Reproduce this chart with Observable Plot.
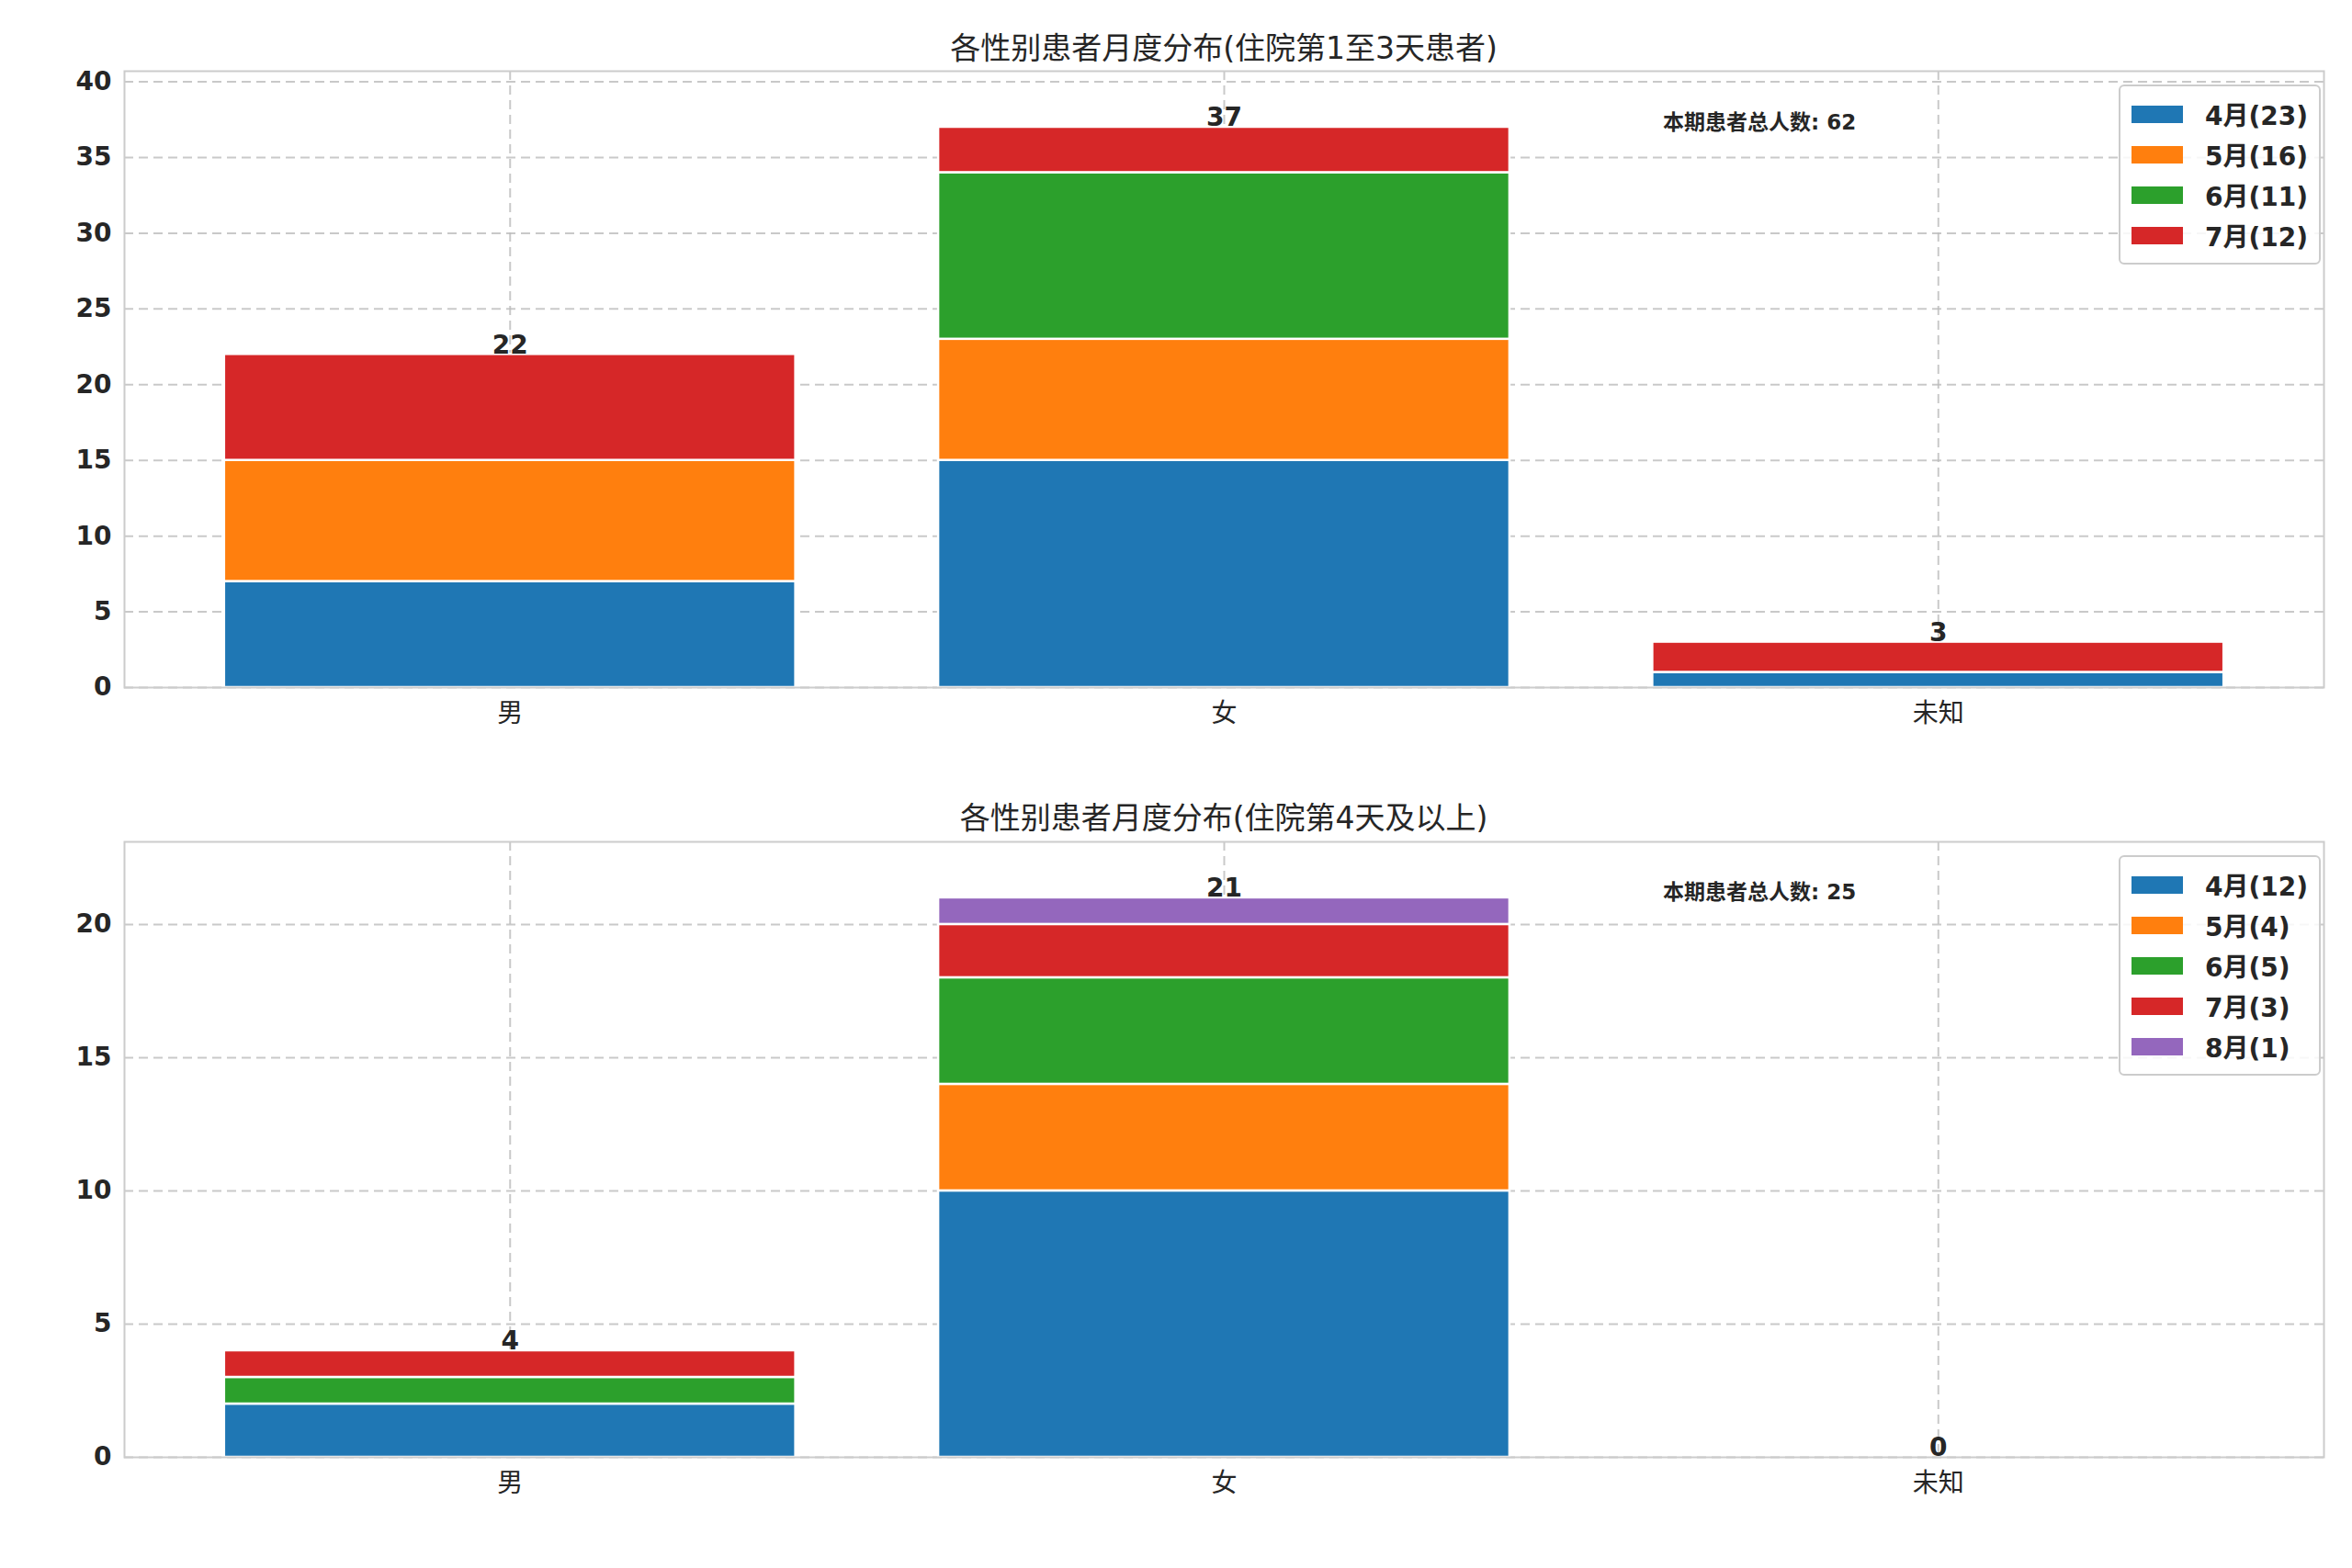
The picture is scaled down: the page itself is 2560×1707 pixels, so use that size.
<!DOCTYPE html>
<html><head><meta charset="utf-8">
<script src="https://cdn.jsdelivr.net/npm/d3@7"></script>
<script src="https://cdn.jsdelivr.net/npm/@observablehq/plot@0.6"></script>
<style>
body{margin:0;background:#fff;font-family:"DejaVu Sans","Noto Sans CJK SC",sans-serif;}
#wrap{position:relative;width:2560px;height:1707px;}
.title{position:absolute;left:135px;width:2394px;text-align:center;font-size:33px;color:#262626;}
.note{position:absolute;font-size:23px;font-weight:bold;color:#262626;}
.legend{position:absolute;right:34px;border:2px solid #ccc;border-radius:6px;background:rgba(255,255,255,0.85);padding:8px 12px;font-size:28px;font-weight:bold;color:#262626;}
.legend div{display:flex;align-items:center;height:44px;}
.legend span{display:inline-block;width:56px;height:19px;margin-right:24px;}
.svgbox{position:absolute;left:0;}
</style></head><body>
<div id="wrap"></div>
<script>
const categories = ["男", "女", "未知"];
const months1 = ["4月", "5月", "6月", "7月"];
const values1 = { "4月": [7, 15, 1], "5月": [8, 8, 0], "6月": [0, 11, 0], "7月": [7, 3, 2] };
const months2 = ["4月", "5月", "6月", "7月", "8月"];
const values2 = { "4月": [2, 10, 0], "5月": [0, 4, 0], "6月": [1, 4, 0], "7月": [1, 2, 0], "8月": [0, 1, 0] };
const titles = ["各性别患者月度分布(住院第1至3天患者)", "各性别患者月度分布(住院第4天及以上)"];
const notes = ["本期患者总人数: 62", "本期患者总人数: 25"];
const xLabel = "性别", yLabel = "患者人数";
const yTicks1 = [0,5,10,15,20,25,30,35,40], yTicks2 = [0,5,10,15,20];
const palette = ["#1f77b4","#ff7f0e","#2ca02c","#d62728","#9467bd"];

const wrap = document.getElementById("wrap");
function panel(months, values, yTicks, title, note, top, height, mTop, mBottom, titleY, legendY) {
  const rows = [];
  months.forEach(m => values[m].forEach((v, i) => rows.push({cat: i, month: m, v})));
  const totals = categories.map((c, i) => ({i, t: d3.sum(months, m => values[m][i])}));
  const ymax = d3.max(totals, d => d.t) * 1.1;
  const plot = Plot.plot({
    width: 2560, height, marginLeft: 135, marginRight: 31, marginTop: mTop, marginBottom: mBottom,
    style: {fontFamily: '"DejaVu Sans","Noto Sans CJK SC",sans-serif', fontSize: "28px", color: "#262626", background: "#fff"},
    x: {domain: [-0.54, 2.54], ticks: [0,1,2], tickFormat: i => categories[i], tickSize: 0, tickPadding: 18, label: xLabel, labelAnchor: "center", labelOffset: 85},
    y: {domain: [0, ymax], ticks: yTicks, tickSize: 0, tickPadding: 14, label: yLabel, labelAnchor: "center", labelOffset: 95},
    color: {domain: months, range: palette},
    marks: [
      Plot.gridY(yTicks, {stroke: "#bbb", strokeOpacity: 0.8, strokeDasharray: "10,6", strokeWidth: 2}),
      Plot.gridX([0,1,2], {stroke: "#bbb", strokeOpacity: 0.8, strokeDasharray: "10,6", strokeWidth: 2}),
      Plot.rectY(rows, Plot.stackY({x1: d => d.cat - 0.4, x2: d => d.cat + 0.4, y: "v", fill: "month", order: months, stroke: "white", strokeWidth: 2.5})),
      Plot.text(totals, {x: "i", y: "t", text: d => String(d.t), dy: -10, fontSize: 28, fontWeight: "bold", fill: "#262626"}),
      Plot.frame({stroke: "#ccc", strokeWidth: 2}),
      Plot.axisY({ticks: yTicks, tickSize: 0, tickPadding: 14, fontWeight: "bold", fontSize: 28, label: null}),
      Plot.axisX({ticks: [0,1,2], tickFormat: i => categories[i], tickSize: 0, tickPadding: 18, fontSize: 28, label: null})
    ]
  });
  const box = document.createElement("div"); box.className = "svgbox"; box.style.top = top + "px";
  box.appendChild(plot); wrap.appendChild(box);
  const t = document.createElement("div"); t.className = "title"; t.style.top = titleY + "px"; t.textContent = title; wrap.appendChild(t);
  const n = document.createElement("div"); n.className = "note"; n.style.left = "1810px"; n.style.top = (titleY + 88) + "px"; n.textContent = note; wrap.appendChild(n);
  const lg = document.createElement("div"); lg.className = "legend"; lg.style.top = legendY + "px";
  months.forEach((m, k) => {
    const tot = d3.sum(values[m]);
    const r = document.createElement("div");
    r.innerHTML = `<span style="background:${palette[k]}"></span>${m}(${tot})`;
    lg.appendChild(r);
  });
  wrap.appendChild(lg);
}
panel(months1, values1, yTicks1, titles[0], notes[0], 0, 853, 77, 105, 26, 92);
panel(months2, values2, yTicks2, titles[1], notes[1], 853, 854, 63, 121, 864, 931);
</script></body></html>
